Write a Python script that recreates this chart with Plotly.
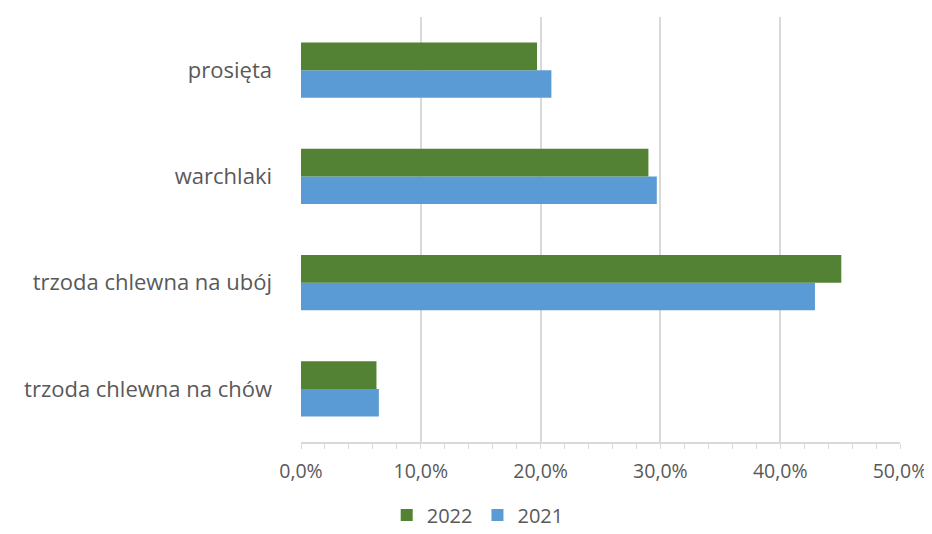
import plotly.graph_objects as go

categories = ["trzoda chlewna na chów", "trzoda chlewna na ubój", "warchlaki", "prosięta"]
values_2021 = [6.5, 42.9, 29.7, 20.9]
values_2022 = [6.3, 45.1, 29.0, 19.7]
tick_vals = [0, 10, 20, 30, 40, 50]
tick_text = ["0,0%", "10,0%", "20,0%", "30,0%", "40,0%", "50,0%"]

FONT = "Open Sans"
GRAY = "#595959"
GRID = "#d9d9d9"

fig = go.Figure()
fig.add_trace(go.Bar(y=categories, x=values_2021, name="2021", orientation="h",
                     marker=dict(color="#5B9BD5", line=dict(width=0)), legendrank=2))
fig.add_trace(go.Bar(y=categories, x=values_2022, name="2022", orientation="h",
                     marker=dict(color="#548235", line=dict(width=0)), legendrank=1))

fig.update_layout(
    width=924, height=526,
    margin=dict(l=293, r=32, t=9, b=92, autoexpand=False),
    paper_bgcolor="white", plot_bgcolor="white",
    barmode="group", bargap=0.48, bargroupgap=0,
    font=dict(family=FONT, color=GRAY, size=21),
    legend=dict(orientation="h", x=0.295, xanchor="center", y=-0.172, yanchor="middle",
                font=dict(size=20, color=GRAY), itemwidth=30, traceorder="normal",
                bgcolor="rgba(0,0,0,0)"),
    showlegend=True,
)
fig.update_xaxes(range=[0, 50], tickvals=tick_vals, ticktext=tick_text,
                 showgrid=True, gridcolor=GRID, gridwidth=1.5,
                 showline=True, linecolor=GRID, linewidth=1.5,
                 ticks="outside", ticklen=5, tickcolor=GRID,
                 minor=dict(dtick=2, ticks="outside", ticklen=5, tickcolor=GRID, showgrid=False),
                 zeroline=False, ticklabelstandoff=6, tickfont=dict(size=19.5, color=GRAY))
fig.update_yaxes(showgrid=False, zeroline=False, showline=False, ticks="",
                 ticklabelstandoff=28, tickfont=dict(size=22, color=GRAY))

fig.write_html("out.html")
